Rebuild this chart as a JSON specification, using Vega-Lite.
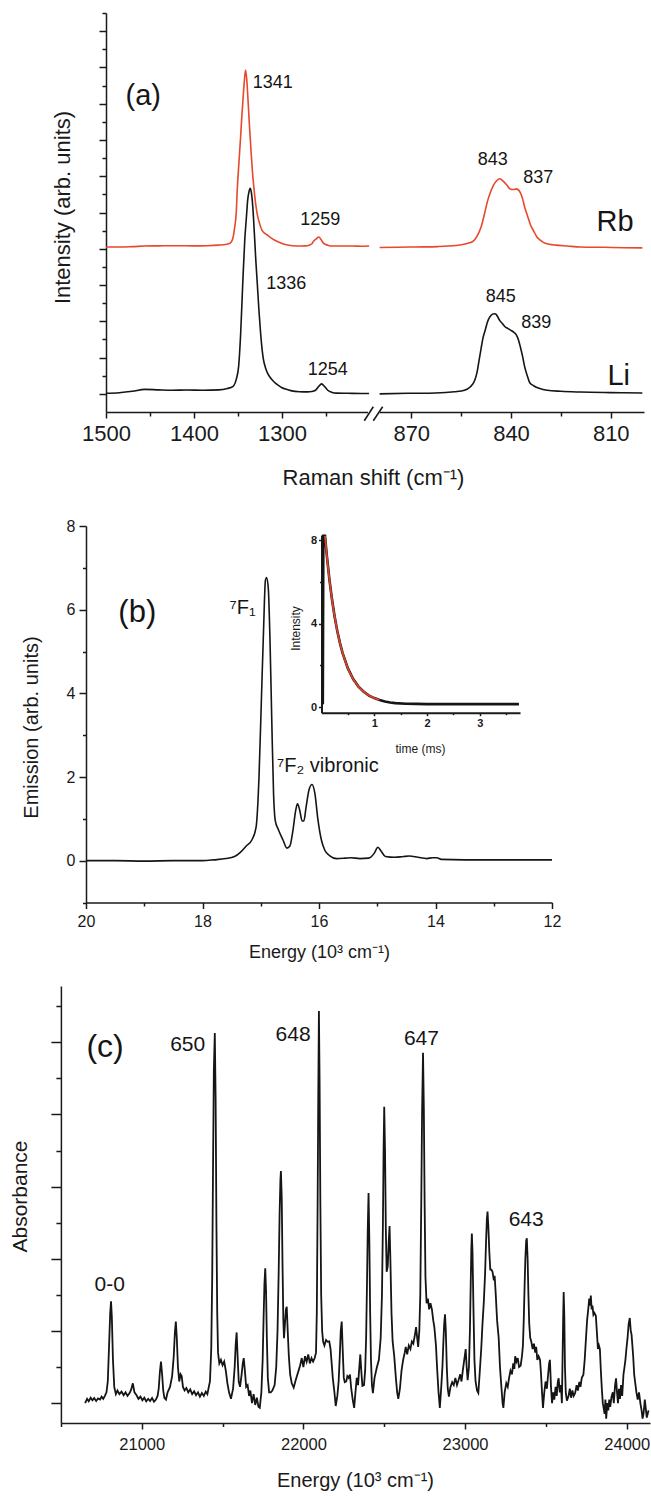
{
  "$schema": "https://vega.github.io/schema/vega-lite/v6.json",
  "width": 651,
  "height": 1496,
  "autosize": {"type": "none"},
  "padding": 0,
  "background": "white",
  "config": {
    "view": {"stroke": null},
    "font": "Liberation Sans",
    "axis": {
      "grid": false,
      "domainColor": "#1a1a1a",
      "tickColor": "#1a1a1a",
      "labelColor": "#1a1a1a",
      "titleColor": "#1a1a1a",
      "domainWidth": 1.5,
      "tickWidth": 1.5,
      "labelFont": "Liberation Sans",
      "titleFont": "Liberation Sans",
      "titleFontWeight": "normal",
      "labelFlush": false,
      "labelOverlap": false
    }
  },
  "datasets": {
    "ramanA": [
      {"salt":"Rb","part":"L","shift":1500,"int":8.10},{"salt":"Rb","part":"L","shift":1485,"int":8.10},{"salt":"Rb","part":"L","shift":1470,"int":8.12},{"salt":"Rb","part":"L","shift":1456,"int":8.15},{"salt":"Rb","part":"L","shift":1440,"int":8.16},{"salt":"Rb","part":"L","shift":1420,"int":8.17},{"salt":"Rb","part":"L","shift":1400,"int":8.16},{"salt":"Rb","part":"L","shift":1385,"int":8.17},{"salt":"Rb","part":"L","shift":1372,"int":8.2},{"salt":"Rb","part":"L","shift":1364,"int":8.24},{"salt":"Rb","part":"L","shift":1359,"int":8.3},{"salt":"Rb","part":"L","shift":1356,"int":8.55},{"salt":"Rb","part":"L","shift":1354,"int":9.1},{"salt":"Rb","part":"L","shift":1352,"int":10.0},{"salt":"Rb","part":"L","shift":1350.8,"int":11.3},{"salt":"Rb","part":"L","shift":1349,"int":12.7},{"salt":"Rb","part":"L","shift":1347,"int":14.2},{"salt":"Rb","part":"L","shift":1345.5,"int":15.4},{"salt":"Rb","part":"L","shift":1344.1,"int":16.4},{"salt":"Rb","part":"L","shift":1342.7,"int":17.3},{"salt":"Rb","part":"L","shift":1341.4,"int":17.86},{"salt":"Rb","part":"L","shift":1340,"int":17.3},{"salt":"Rb","part":"L","shift":1338.5,"int":16.1},{"salt":"Rb","part":"L","shift":1337,"int":14.8},{"salt":"Rb","part":"L","shift":1335.2,"int":13.4},{"salt":"Rb","part":"L","shift":1333.5,"int":12.2},{"salt":"Rb","part":"L","shift":1331.8,"int":11.3},{"salt":"Rb","part":"L","shift":1330,"int":10.5},{"salt":"Rb","part":"L","shift":1328.1,"int":9.9},{"salt":"Rb","part":"L","shift":1325.5,"int":9.4},{"salt":"Rb","part":"L","shift":1322.5,"int":9.0},{"salt":"Rb","part":"L","shift":1319.5,"int":8.85},{"salt":"Rb","part":"L","shift":1316.4,"int":8.75},{"salt":"Rb","part":"L","shift":1313,"int":8.62},{"salt":"Rb","part":"L","shift":1309.2,"int":8.5},{"salt":"Rb","part":"L","shift":1302,"int":8.33},{"salt":"Rb","part":"L","shift":1295,"int":8.22},{"salt":"Rb","part":"L","shift":1288,"int":8.17},{"salt":"Rb","part":"L","shift":1281,"int":8.15},{"salt":"Rb","part":"L","shift":1274,"int":8.16},{"salt":"Rb","part":"L","shift":1269.2,"int":8.2},{"salt":"Rb","part":"L","shift":1266,"int":8.28},{"salt":"Rb","part":"L","shift":1264.4,"int":8.4},{"salt":"Rb","part":"L","shift":1261,"int":8.55},{"salt":"Rb","part":"L","shift":1258.3,"int":8.65},{"salt":"Rb","part":"L","shift":1255.5,"int":8.5},{"salt":"Rb","part":"L","shift":1252.7,"int":8.3},{"salt":"Rb","part":"L","shift":1248,"int":8.2},{"salt":"Rb","part":"L","shift":1243.2,"int":8.15},{"salt":"Rb","part":"L","shift":1230,"int":8.15},{"salt":"Rb","part":"L","shift":1219.7,"int":8.15},{"salt":"Rb","part":"L","shift":1210,"int":8.14},{"salt":"Rb","part":"L","shift":1201,"int":8.15},
      {"salt":"Li","part":"L","shift":1500,"int":0.03},{"salt":"Li","part":"L","shift":1485,"int":0.06},{"salt":"Li","part":"L","shift":1470,"int":0.14},{"salt":"Li","part":"L","shift":1456,"int":0.25},{"salt":"Li","part":"L","shift":1440,"int":0.22},{"salt":"Li","part":"L","shift":1425,"int":0.2},{"salt":"Li","part":"L","shift":1408,"int":0.21},{"salt":"Li","part":"L","shift":1390,"int":0.2},{"salt":"Li","part":"L","shift":1372,"int":0.22},{"salt":"Li","part":"L","shift":1362,"int":0.3},{"salt":"Li","part":"L","shift":1356,"int":0.4},{"salt":"Li","part":"L","shift":1352,"int":0.8},{"salt":"Li","part":"L","shift":1349.3,"int":1.5},{"salt":"Li","part":"L","shift":1347,"int":3.3},{"salt":"Li","part":"L","shift":1344.6,"int":6.1},{"salt":"Li","part":"L","shift":1342.3,"int":8.5},{"salt":"Li","part":"L","shift":1340.5,"int":9.7},{"salt":"Li","part":"L","shift":1339,"int":10.68},{"salt":"Li","part":"L","shift":1337.5,"int":11.15},{"salt":"Li","part":"L","shift":1336.1,"int":11.33},{"salt":"Li","part":"L","shift":1334.8,"int":11.1},{"salt":"Li","part":"L","shift":1333.8,"int":10.68},{"salt":"Li","part":"L","shift":1332.5,"int":9.8},{"salt":"Li","part":"L","shift":1331.4,"int":8.85},{"salt":"Li","part":"L","shift":1329.8,"int":7.4},{"salt":"Li","part":"L","shift":1328.1,"int":6.1},{"salt":"Li","part":"L","shift":1326.2,"int":4.6},{"salt":"Li","part":"L","shift":1324.3,"int":3.34},{"salt":"Li","part":"L","shift":1322.5,"int":2.4},{"salt":"Li","part":"L","shift":1321,"int":1.87},{"salt":"Li","part":"L","shift":1318.5,"int":1.4},{"salt":"Li","part":"L","shift":1316.3,"int":1.13},{"salt":"Li","part":"L","shift":1312.5,"int":0.85},{"salt":"Li","part":"L","shift":1309.2,"int":0.67},{"salt":"Li","part":"L","shift":1304.5,"int":0.48},{"salt":"Li","part":"L","shift":1300,"int":0.34},{"salt":"Li","part":"L","shift":1295,"int":0.25},{"salt":"Li","part":"L","shift":1290,"int":0.18},{"salt":"Li","part":"L","shift":1280,"int":0.12},{"salt":"Li","part":"L","shift":1271,"int":0.11},{"salt":"Li","part":"L","shift":1266,"int":0.13},{"salt":"Li","part":"L","shift":1262,"int":0.2},{"salt":"Li","part":"L","shift":1258.5,"int":0.4},{"salt":"Li","part":"L","shift":1255,"int":0.55},{"salt":"Li","part":"L","shift":1251.5,"int":0.4},{"salt":"Li","part":"L","shift":1248,"int":0.2},{"salt":"Li","part":"L","shift":1243,"int":0.08},{"salt":"Li","part":"L","shift":1238.5,"int":0.04},{"salt":"Li","part":"L","shift":1225,"int":0.03},{"salt":"Li","part":"L","shift":1210,"int":0.02},{"salt":"Li","part":"L","shift":1201,"int":0.02},
      {"salt":"Rb","part":"R","shift":879.5,"int":8.07},{"salt":"Rb","part":"R","shift":874,"int":8.08},{"salt":"Rb","part":"R","shift":868.9,"int":8.1},{"salt":"Rb","part":"R","shift":862,"int":8.12},{"salt":"Rb","part":"R","shift":856.5,"int":8.18},{"salt":"Rb","part":"R","shift":853.5,"int":8.28},{"salt":"Rb","part":"R","shift":851.5,"int":8.4},{"salt":"Rb","part":"R","shift":850.2,"int":8.7},{"salt":"Rb","part":"R","shift":849,"int":9.2},{"salt":"Rb","part":"R","shift":848,"int":9.9},{"salt":"Rb","part":"R","shift":847.1,"int":10.6},{"salt":"Rb","part":"R","shift":846.2,"int":11.1},{"salt":"Rb","part":"R","shift":845.3,"int":11.5},{"salt":"Rb","part":"R","shift":844.3,"int":11.75},{"salt":"Rb","part":"R","shift":843.4,"int":11.86},{"salt":"Rb","part":"R","shift":842.2,"int":11.7},{"salt":"Rb","part":"R","shift":841.2,"int":11.5},{"salt":"Rb","part":"R","shift":840.3,"int":11.3},{"salt":"Rb","part":"R","shift":839.3,"int":11.27},{"salt":"Rb","part":"R","shift":838.4,"int":11.3},{"salt":"Rb","part":"R","shift":837.2,"int":11.1},{"salt":"Rb","part":"R","shift":836.5,"int":10.75},{"salt":"Rb","part":"R","shift":835.9,"int":10.3},{"salt":"Rb","part":"R","shift":835,"int":9.8},{"salt":"Rb","part":"R","shift":834.1,"int":9.3},{"salt":"Rb","part":"R","shift":833.1,"int":8.95},{"salt":"Rb","part":"R","shift":832.2,"int":8.65},{"salt":"Rb","part":"R","shift":831.2,"int":8.48},{"salt":"Rb","part":"R","shift":830.3,"int":8.35},{"salt":"Rb","part":"R","shift":828.5,"int":8.25},{"salt":"Rb","part":"R","shift":826.6,"int":8.2},{"salt":"Rb","part":"R","shift":823,"int":8.15},{"salt":"Rb","part":"R","shift":819.1,"int":8.1},{"salt":"Rb","part":"R","shift":812,"int":8.08},{"salt":"Rb","part":"R","shift":806,"int":8.06},{"salt":"Rb","part":"R","shift":800.5,"int":8.05},
      {"salt":"Li","part":"R","shift":879.5,"int":0.0},{"salt":"Li","part":"R","shift":871,"int":0.03},{"salt":"Li","part":"R","shift":862.7,"int":0.05},{"salt":"Li","part":"R","shift":857,"int":0.12},{"salt":"Li","part":"R","shift":854,"int":0.2},{"salt":"Li","part":"R","shift":852.3,"int":0.38},{"salt":"Li","part":"R","shift":850.9,"int":0.75},{"salt":"Li","part":"R","shift":850.2,"int":1.2},{"salt":"Li","part":"R","shift":849.6,"int":1.85},{"salt":"Li","part":"R","shift":849,"int":2.5},{"salt":"Li","part":"R","shift":848.4,"int":3.1},{"salt":"Li","part":"R","shift":847.7,"int":3.55},{"salt":"Li","part":"R","shift":847.1,"int":3.95},{"salt":"Li","part":"R","shift":846.5,"int":4.2},{"salt":"Li","part":"R","shift":845.9,"int":4.35},{"salt":"Li","part":"R","shift":845.2,"int":4.42},{"salt":"Li","part":"R","shift":844.6,"int":4.4},{"salt":"Li","part":"R","shift":844,"int":4.25},{"salt":"Li","part":"R","shift":843.4,"int":4.05},{"salt":"Li","part":"R","shift":842.6,"int":3.88},{"salt":"Li","part":"R","shift":841.8,"int":3.7},{"salt":"Li","part":"R","shift":840.9,"int":3.6},{"salt":"Li","part":"R","shift":840,"int":3.5},{"salt":"Li","part":"R","shift":839.2,"int":3.4},{"salt":"Li","part":"R","shift":838.4,"int":3.25},{"salt":"Li","part":"R","shift":837.8,"int":3.0},{"salt":"Li","part":"R","shift":837.2,"int":2.6},{"salt":"Li","part":"R","shift":836.5,"int":2.05},{"salt":"Li","part":"R","shift":835.9,"int":1.5},{"salt":"Li","part":"R","shift":835.1,"int":1.0},{"salt":"Li","part":"R","shift":834.3,"int":0.6},{"salt":"Li","part":"R","shift":833.2,"int":0.45},{"salt":"Li","part":"R","shift":832.2,"int":0.35},{"salt":"Li","part":"R","shift":830.7,"int":0.26},{"salt":"Li","part":"R","shift":829.1,"int":0.2},{"salt":"Li","part":"R","shift":825,"int":0.14},{"salt":"Li","part":"R","shift":819.1,"int":0.1},{"salt":"Li","part":"R","shift":810,"int":0.07},{"salt":"Li","part":"R","shift":800.5,"int":0.05}
    ],
    "aNums": [
      {"shift":1310.5,"int":17.14,"t":"1341"},
      {"shift":1256.5,"int":9.59,"t":"1259"},
      {"shift":845.5,"int":12.87,"t":"843"},
      {"shift":831.8,"int":11.89,"t":"837"},
      {"shift":1295.1,"int":6.07,"t":"1336"},
      {"shift":843.1,"int":5.34,"t":"845"},
      {"shift":832.4,"int":3.91,"t":"839"},
      {"shift":1248,"int":1.33,"t":"1254"}
    ],
    "aTags": [
      {"shift":1457.7,"int":16.43,"t":"(a)"},
      {"shift":808.7,"int":9.49,"t":"Rb"},
      {"shift":807.6,"int":1.0,"t":"Li"}
    ],
    "aMask": [{"shift":1202.3,"shift2":879.4,"int":-1}],
    "aBreak": [
      {"shift":1206.5,"shift2":1068,"int":-1.48,"int2":-0.71},
      {"shift":1068,"shift2":878.6,"int":-1.48,"int2":-0.71}
    ],
    "emisB": [
      {"e":20,"v":0.0},{"e":19.5,"v":0.0},{"e":19,"v":-0.01},{"e":18.5,"v":0.0},{"e":18,"v":0.0},{"e":17.8,"v":0.02},{"e":17.6,"v":0.05},{"e":17.45,"v":0.1},{"e":17.35,"v":0.2},{"e":17.25,"v":0.35},{"e":17.15,"v":0.5},{"e":17.08,"v":0.8},{"e":17.03,"v":2.0},{"e":16.99,"v":3.8},{"e":16.95,"v":5.6},{"e":16.92,"v":6.7},{"e":16.9,"v":6.77},{"e":16.87,"v":6.5},{"e":16.84,"v":5.2},{"e":16.81,"v":3.3},{"e":16.78,"v":1.6},{"e":16.75,"v":0.95},{"e":16.7,"v":0.75},{"e":16.62,"v":0.5},{"e":16.55,"v":0.3},{"e":16.5,"v":0.35},{"e":16.45,"v":0.7},{"e":16.4,"v":1.2},{"e":16.37,"v":1.36},{"e":16.33,"v":1.2},{"e":16.29,"v":0.95},{"e":16.26,"v":0.95},{"e":16.22,"v":1.3},{"e":16.17,"v":1.7},{"e":16.12,"v":1.82},{"e":16.07,"v":1.6},{"e":16.02,"v":1.0},{"e":15.96,"v":0.5},{"e":15.9,"v":0.25},{"e":15.82,"v":0.12},{"e":15.7,"v":0.05},{"e":15.55,"v":0.06},{"e":15.45,"v":0.07},{"e":15.3,"v":0.05},{"e":15.15,"v":0.06},{"e":15.05,"v":0.18},{"e":14.99,"v":0.32},{"e":14.93,"v":0.22},{"e":14.86,"v":0.1},{"e":14.7,"v":0.08},{"e":14.55,"v":0.1},{"e":14.45,"v":0.11},{"e":14.3,"v":0.08},{"e":14.15,"v":0.05},{"e":14.05,"v":0.07},{"e":13.98,"v":0.07},{"e":13.9,"v":0.03},{"e":13.5,"v":0.02},{"e":13,"v":0.02},{"e":12.5,"v":0.02},{"e":12,"v":0.02}
    ],
    "bTag": [{"e":19.12,"v":5.93,"t":"(b)"}],
    "bF1": [{"e":17.31,"v":6.05,"t":"⁷F₁"}],
    "bF2": [{"e":16.72,"v":2.26,"t":"⁷F₂ vibronic"}],
    "insetBlack": [
      {"t":0.005,"I":0.15},{"t":0.025,"I":0.2},{"t":0.035,"I":8.2},{"t":0.066,"I":8.2},{"t":0.1,"I":7.28},{"t":0.15,"I":6.11},{"t":0.2,"I":5.14},{"t":0.25,"I":4.32},{"t":0.3,"I":3.64},{"t":0.35,"I":3.07},{"t":0.4,"I":2.59},{"t":0.5,"I":1.86},{"t":0.6,"I":1.35},{"t":0.7,"I":0.99},{"t":0.8,"I":0.74},{"t":0.9,"I":0.56},{"t":1.0,"I":0.44},{"t":1.1,"I":0.35},{"t":1.2,"I":0.28},{"t":1.3,"I":0.23},{"t":1.4,"I":0.2},{"t":1.6,"I":0.17},{"t":1.8,"I":0.16},{"t":2.0,"I":0.15},{"t":2.4,"I":0.15},{"t":2.8,"I":0.15},{"t":3.2,"I":0.15},{"t":3.6,"I":0.15},{"t":3.74,"I":0.15}
    ],
    "insetRed": [
      {"t":0.066,"I":8.2},{"t":0.1,"I":7.28},{"t":0.15,"I":6.11},{"t":0.2,"I":5.14},{"t":0.25,"I":4.32},{"t":0.3,"I":3.64},{"t":0.35,"I":3.07},{"t":0.4,"I":2.59},{"t":0.5,"I":1.86},{"t":0.6,"I":1.35},{"t":0.7,"I":0.99},{"t":0.8,"I":0.74},{"t":0.9,"I":0.56},{"t":1.0,"I":0.44},{"t":1.1,"I":0.35}
    ],
    "absC": [
      {"E":20650,"A":0.0},{"E":20662,"A":0.12},{"E":20672,"A":0.05},{"E":20684,"A":0.15},{"E":20695,"A":0.08},{"E":20706,"A":0.14},{"E":20718,"A":0.06},{"E":20730,"A":0.13},{"E":20742,"A":0.1},{"E":20752,"A":0.18},{"E":20762,"A":0.12},{"E":20772,"A":0.2},{"E":20782,"A":0.3},{"E":20790,"A":0.6},{"E":20798,"A":1.6},{"E":20805,"A":2.5},{"E":20810,"A":2.82},{"E":20815,"A":2.4},{"E":20822,"A":1.2},{"E":20830,"A":0.45},{"E":20840,"A":0.25},{"E":20850,"A":0.35},{"E":20862,"A":0.25},{"E":20875,"A":0.32},{"E":20888,"A":0.22},{"E":20900,"A":0.3},{"E":20912,"A":0.2},{"E":20925,"A":0.28},{"E":20935,"A":0.38},{"E":20945,"A":0.55},{"E":20955,"A":0.3},{"E":20968,"A":0.22},{"E":20980,"A":0.12},{"E":20992,"A":0.18},{"E":21004,"A":0.08},{"E":21016,"A":0.15},{"E":21028,"A":0.05},{"E":21040,"A":0.12},{"E":21052,"A":0.06},{"E":21064,"A":0.14},{"E":21076,"A":0.04},{"E":21088,"A":0.1},{"E":21098,"A":0.2},{"E":21105,"A":0.4},{"E":21112,"A":0.85},{"E":21119,"A":1.15},{"E":21126,"A":0.8},{"E":21133,"A":0.35},{"E":21140,"A":0.15},{"E":21150,"A":0.1},{"E":21160,"A":0.3},{"E":21175,"A":0.45},{"E":21188,"A":0.75},{"E":21198,"A":1.3},{"E":21205,"A":1.95},{"E":21211,"A":2.26},{"E":21217,"A":1.8},{"E":21224,"A":1.0},{"E":21232,"A":0.6},{"E":21240,"A":0.8},{"E":21247,"A":0.75},{"E":21255,"A":0.45},{"E":21265,"A":0.35},{"E":21276,"A":0.42},{"E":21288,"A":0.3},{"E":21300,"A":0.38},{"E":21312,"A":0.25},{"E":21324,"A":0.33},{"E":21336,"A":0.22},{"E":21348,"A":0.3},{"E":21360,"A":0.18},{"E":21372,"A":0.28},{"E":21384,"A":0.2},{"E":21396,"A":0.32},{"E":21406,"A":0.25},{"E":21415,"A":0.45},{"E":21422,"A":0.6},{"E":21430,"A":1.5},{"E":21436,"A":3.5},{"E":21441,"A":6.5},{"E":21446,"A":9.2},{"E":21452,"A":10.26},{"E":21457,"A":8.5},{"E":21462,"A":5.0},{"E":21467,"A":2.5},{"E":21472,"A":1.4},{"E":21480,"A":1.1},{"E":21490,"A":1.2},{"E":21500,"A":1.05},{"E":21510,"A":1.15},{"E":21520,"A":0.9},{"E":21530,"A":0.55},{"E":21540,"A":0.3},{"E":21552,"A":0.12},{"E":21565,"A":0.4},{"E":21575,"A":1.0},{"E":21581,"A":1.6},{"E":21587,"A":1.96},{"E":21593,"A":1.3},{"E":21600,"A":0.6},{"E":21608,"A":0.45},{"E":21618,"A":0.8},{"E":21625,"A":1.1},{"E":21631,"A":1.25},{"E":21638,"A":0.9},{"E":21646,"A":0.45},{"E":21655,"A":0.5},{"E":21664,"A":0.2},{"E":21672,"A":0.35},{"E":21682,"A":0.0},{"E":21692,"A":0.25},{"E":21702,"A":-0.05},{"E":21712,"A":0.15},{"E":21722,"A":-0.1},{"E":21730,"A":-0.13},{"E":21740,"A":0.3},{"E":21748,"A":1.2},{"E":21754,"A":2.4},{"E":21759,"A":3.3},{"E":21764,"A":3.74},{"E":21769,"A":3.1},{"E":21774,"A":1.8},{"E":21780,"A":0.7},{"E":21788,"A":0.3},{"E":21798,"A":0.3},{"E":21808,"A":0.35},{"E":21822,"A":0.5},{"E":21832,"A":1.0},{"E":21840,"A":2.0},{"E":21847,"A":3.6},{"E":21853,"A":5.3},{"E":21858,"A":6.2},{"E":21861,"A":6.43},{"E":21866,"A":5.7},{"E":21871,"A":3.8},{"E":21876,"A":2.3},{"E":21880,"A":1.8},{"E":21886,"A":2.2},{"E":21892,"A":2.6},{"E":21897,"A":2.67},{"E":21903,"A":2.0},{"E":21910,"A":1.3},{"E":21918,"A":0.8},{"E":21928,"A":0.55},{"E":21940,"A":0.43},{"E":21950,"A":0.6},{"E":21960,"A":0.75},{"E":21970,"A":0.9},{"E":21980,"A":1.05},{"E":21990,"A":1.25},{"E":22000,"A":1.0},{"E":22010,"A":1.3},{"E":22020,"A":1.15},{"E":22030,"A":1.35},{"E":22040,"A":1.1},{"E":22050,"A":1.25},{"E":22060,"A":1.15},{"E":22070,"A":1.25},{"E":22078,"A":1.4},{"E":22083,"A":2.5},{"E":22088,"A":5.5},{"E":22092,"A":8.5},{"E":22096,"A":10.87},{"E":22100,"A":9.0},{"E":22105,"A":5.5},{"E":22110,"A":3.0},{"E":22116,"A":2.0},{"E":22122,"A":1.71},{"E":22130,"A":1.6},{"E":22140,"A":1.75},{"E":22150,"A":1.7},{"E":22160,"A":1.71},{"E":22168,"A":1.5},{"E":22175,"A":1.1},{"E":22182,"A":0.69},{"E":22192,"A":0.3},{"E":22200,"A":-0.08},{"E":22210,"A":0.2},{"E":22218,"A":0.6},{"E":22225,"A":1.3},{"E":22231,"A":2.0},{"E":22237,"A":2.26},{"E":22243,"A":1.5},{"E":22250,"A":0.7},{"E":22256,"A":0.58},{"E":22265,"A":0.6},{"E":22272,"A":0.75},{"E":22280,"A":0.7},{"E":22288,"A":0.79},{"E":22296,"A":0.4},{"E":22305,"A":0.1},{"E":22314,"A":-0.13},{"E":22322,"A":0.3},{"E":22330,"A":0.7},{"E":22338,"A":0.5},{"E":22346,"A":1.0},{"E":22352,"A":1.35},{"E":22358,"A":0.9},{"E":22365,"A":0.48},{"E":22375,"A":0.5},{"E":22382,"A":0.9},{"E":22388,"A":1.8},{"E":22393,"A":3.2},{"E":22398,"A":4.8},{"E":22403,"A":5.82},{"E":22408,"A":4.5},{"E":22413,"A":2.5},{"E":22418,"A":1.2},{"E":22424,"A":0.5},{"E":22430,"A":0.28},{"E":22440,"A":0.7},{"E":22455,"A":1.0},{"E":22467,"A":1.2},{"E":22478,"A":1.8},{"E":22486,"A":3.0},{"E":22492,"A":5.0},{"E":22496,"A":7.0},{"E":22500,"A":8.21},{"E":22505,"A":7.0},{"E":22510,"A":4.8},{"E":22515,"A":3.64},{"E":22522,"A":3.8},{"E":22528,"A":4.5},{"E":22533,"A":4.91},{"E":22538,"A":4.0},{"E":22545,"A":2.5},{"E":22552,"A":1.71},{"E":22562,"A":1.3},{"E":22572,"A":0.7},{"E":22580,"A":0.3},{"E":22587,"A":0.12},{"E":22597,"A":0.4},{"E":22607,"A":0.9},{"E":22617,"A":1.2},{"E":22627,"A":1.4},{"E":22633,"A":1.56},{"E":22642,"A":1.35},{"E":22652,"A":1.6},{"E":22662,"A":1.5},{"E":22671,"A":1.71},{"E":22680,"A":1.65},{"E":22690,"A":1.9},{"E":22697,"A":2.11},{"E":22704,"A":1.8},{"E":22710,"A":1.56},{"E":22717,"A":2.0},{"E":22723,"A":3.0},{"E":22729,"A":5.5},{"E":22734,"A":8.0},{"E":22740,"A":9.71},{"E":22745,"A":8.2},{"E":22750,"A":5.5},{"E":22755,"A":3.5},{"E":22762,"A":2.77},{"E":22770,"A":2.9},{"E":22778,"A":2.6},{"E":22786,"A":2.77},{"E":22795,"A":2.6},{"E":22803,"A":2.3},{"E":22810,"A":2.11},{"E":22820,"A":1.6},{"E":22828,"A":0.9},{"E":22836,"A":0.3},{"E":22844,"A":-0.13},{"E":22852,"A":0.4},{"E":22860,"A":1.0},{"E":22866,"A":1.7},{"E":22871,"A":2.2},{"E":22876,"A":2.46},{"E":22881,"A":2.0},{"E":22887,"A":1.0},{"E":22893,"A":0.4},{"E":22900,"A":0.18},{"E":22910,"A":0.45},{"E":22920,"A":0.58},{"E":22930,"A":0.5},{"E":22940,"A":0.7},{"E":22950,"A":0.5},{"E":22960,"A":0.64},{"E":22970,"A":0.8},{"E":22978,"A":0.6},{"E":22986,"A":0.9},{"E":22995,"A":1.2},{"E":23004,"A":1.5},{"E":23010,"A":1.0},{"E":23016,"A":0.64},{"E":23024,"A":1.0},{"E":23030,"A":2.0},{"E":23035,"A":3.3},{"E":23039,"A":4.3},{"E":23042,"A":4.7},{"E":23046,"A":4.2},{"E":23052,"A":2.6},{"E":23058,"A":1.2},{"E":23065,"A":0.6},{"E":23074,"A":0.35},{"E":23082,"A":0.28},{"E":23090,"A":0.8},{"E":23100,"A":1.5},{"E":23108,"A":2.21},{"E":23116,"A":2.8},{"E":23124,"A":3.6},{"E":23130,"A":4.5},{"E":23135,"A":5.1},{"E":23139,"A":5.31},{"E":23144,"A":4.9},{"E":23150,"A":4.2},{"E":23156,"A":3.7},{"E":23163,"A":3.7},{"E":23170,"A":3.64},{"E":23178,"A":3.4},{"E":23183,"A":3.53},{"E":23190,"A":3.0},{"E":23198,"A":2.3},{"E":23208,"A":1.81},{"E":23216,"A":1.0},{"E":23224,"A":0.5},{"E":23232,"A":0.0},{"E":23237,"A":-0.13},{"E":23245,"A":0.3},{"E":23255,"A":0.55},{"E":23264,"A":0.45},{"E":23272,"A":0.69},{"E":23281,"A":0.9},{"E":23290,"A":0.8},{"E":23298,"A":1.1},{"E":23305,"A":0.95},{"E":23310,"A":1.3},{"E":23318,"A":1.15},{"E":23326,"A":1.25},{"E":23334,"A":1.0},{"E":23344,"A":1.04},{"E":23352,"A":1.3},{"E":23358,"A":1.6},{"E":23363,"A":2.3},{"E":23368,"A":3.2},{"E":23373,"A":4.0},{"E":23378,"A":4.5},{"E":23382,"A":4.57},{"E":23387,"A":4.0},{"E":23392,"A":3.0},{"E":23397,"A":2.2},{"E":23403,"A":1.81},{"E":23410,"A":1.7},{"E":23418,"A":1.5},{"E":23426,"A":1.65},{"E":23434,"A":1.4},{"E":23440,"A":1.56},{"E":23447,"A":1.2},{"E":23455,"A":1.3},{"E":23464,"A":1.2},{"E":23470,"A":0.8},{"E":23476,"A":0.3},{"E":23482,"A":-0.13},{"E":23490,"A":0.3},{"E":23498,"A":0.6},{"E":23506,"A":0.4},{"E":23514,"A":0.8},{"E":23520,"A":1.1},{"E":23525,"A":1.2},{"E":23531,"A":0.5},{"E":23538,"A":0.0},{"E":23545,"A":0.3},{"E":23552,"A":0.1},{"E":23560,"A":0.45},{"E":23567,"A":0.2},{"E":23574,"A":0.6},{"E":23579,"A":0.69},{"E":23586,"A":0.3},{"E":23593,"A":0.5},{"E":23599,"A":0.0},{"E":23603,"A":1.2},{"E":23607,"A":2.4},{"E":23610,"A":3.08},{"E":23614,"A":2.4},{"E":23618,"A":1.0},{"E":23623,"A":0.3},{"E":23630,"A":0.07},{"E":23640,"A":0.2},{"E":23648,"A":0.4},{"E":23656,"A":0.15},{"E":23664,"A":0.35},{"E":23672,"A":0.2},{"E":23681,"A":0.28},{"E":23690,"A":0.5},{"E":23698,"A":0.35},{"E":23707,"A":0.59},{"E":23714,"A":0.45},{"E":23722,"A":0.7},{"E":23732,"A":0.79},{"E":23740,"A":1.2},{"E":23748,"A":1.8},{"E":23755,"A":2.3},{"E":23762,"A":2.6},{"E":23768,"A":2.9},{"E":23773,"A":2.7},{"E":23778,"A":2.98},{"E":23783,"A":2.6},{"E":23788,"A":2.7},{"E":23794,"A":2.45},{"E":23800,"A":2.5},{"E":23809,"A":2.42},{"E":23815,"A":2.0},{"E":23822,"A":1.5},{"E":23828,"A":1.6},{"E":23834,"A":1.5},{"E":23840,"A":0.9},{"E":23846,"A":0.4},{"E":23852,"A":0.0},{"E":23857,"A":-0.13},{"E":23863,"A":-0.3},{"E":23868,"A":0.1},{"E":23873,"A":-0.43},{"E":23880,"A":0.0},{"E":23886,"A":-0.2},{"E":23892,"A":0.1},{"E":23898,"A":-0.1},{"E":23906,"A":0.18},{"E":23914,"A":0.3},{"E":23920,"A":0.0},{"E":23928,"A":0.5},{"E":23934,"A":0.69},{"E":23940,"A":0.3},{"E":23946,"A":0.0},{"E":23952,"A":0.4},{"E":23958,"A":0.12},{"E":23965,"A":0.5},{"E":23972,"A":0.2},{"E":23980,"A":0.8},{"E":23986,"A":0.99},{"E":23992,"A":1.2},{"E":23998,"A":1.5},{"E":24005,"A":1.8},{"E":24012,"A":2.2},{"E":24019,"A":2.36},{"E":24025,"A":2.0},{"E":24030,"A":1.9},{"E":24040,"A":1.3},{"E":24046,"A":0.8},{"E":24052,"A":0.58},{"E":24060,"A":0.3},{"E":24068,"A":0.1},{"E":24076,"A":0.3},{"E":24085,"A":-0.02},{"E":24092,"A":-0.2},{"E":24098,"A":-0.43},{"E":24104,"A":-0.3},{"E":24112,"A":0.1},{"E":24124,"A":-0.4},{"E":24135,"A":-0.2}
    ],
    "cNums": [
      {"E":20802,"A":3.28,"t":"0-0"},
      {"E":21284,"A":9.93,"t":"650"},
      {"E":21936,"A":10.21,"t":"648"},
      {"E":22730,"A":10.08,"t":"647"},
      {"E":23378,"A":5.08,"t":"643"}
    ],
    "cTag": [{"E":20773,"A":9.86,"t":"(c)"}]
  },
  "layer": [
    {
      "layer": [
        {
          "data": {"name": "ramanA"},
          "mark": {"type": "line", "strokeWidth": 1.6, "interpolate": "monotone"},
          "encoding": {
            "x": {"field": "shift", "type": "quantitative",
              "scale": {"domain": [1500, 1200, 880, 800], "range": [106, 370, 378, 644], "nice": false, "zero": false},
              "axis": {"orient": "bottom", "offset": -1084, "values": [1500, 1400, 1300, 870, 840, 810], "format": "d", "labelFontSize": 22, "labelPadding": 5, "tickSize": 6,
                "title": "Raman shift (cm⁻¹)", "titleFontSize": 22, "titleX": 373, "titleY": 65, "titleBaseline": "middle", "titleAlign": "center", "titleAngle": 0}},
            "y": {"field": "int", "type": "quantitative",
              "scale": {"domain": [-1, 21], "range": [412, 13], "nice": false, "zero": false},
              "axis": {"orient": "left", "offset": -106, "values": [0, 2, 4, 6, 8, 10, 12, 14, 16, 18, 20], "labels": false, "tickSize": 7,
                "title": "Intensity (arb. units)", "titleFontSize": 22, "titleX": -44, "titleY": 207, "titleAngle": -90, "titleBaseline": "middle", "titleAlign": "center"}},
            "color": {"field": "salt", "type": "nominal", "scale": {"domain": ["Rb", "Li"], "range": ["#e8482c", "#151515"]}, "legend": null},
            "detail": {"field": "part"}
          }
        },
        {
          "data": {"name": "ramanA"},
          "mark": {"type": "point", "opacity": 0, "size": 1},
          "encoding": {
            "x": {"field": "shift", "type": "quantitative",
              "axis": {"orient": "bottom", "offset": -1084, "values": [1450, 1350, 1250, 855, 825], "labels": false, "domain": false, "tickSize": 4, "title": null}},
            "y": {"field": "int", "type": "quantitative",
              "axis": {"orient": "left", "offset": -106, "values": [1, 3, 5, 7, 9, 11, 13, 15, 17, 19, 21], "labels": false, "domain": false, "tickSize": 4, "title": null}}
          }
        },
        {
          "data": {"name": "aMask"},
          "mark": {"type": "rule", "color": "white", "strokeWidth": 4},
          "encoding": {
            "x": {"field": "shift", "type": "quantitative", "axis": null},
            "x2": {"field": "shift2"},
            "y": {"field": "int", "type": "quantitative", "axis": null}
          }
        },
        {
          "data": {"name": "aBreak"},
          "mark": {"type": "rule", "color": "#1a1a1a", "strokeWidth": 1.6},
          "encoding": {
            "x": {"field": "shift", "type": "quantitative", "axis": null},
            "x2": {"field": "shift2"},
            "y": {"field": "int", "type": "quantitative", "axis": null},
            "y2": {"field": "int2"}
          }
        },
        {
          "data": {"name": "aNums"},
          "mark": {"type": "text", "fontSize": 18, "font": "Liberation Sans", "align": "center", "baseline": "middle", "color": "#151515"},
          "encoding": {
            "x": {"field": "shift", "type": "quantitative", "axis": null},
            "y": {"field": "int", "type": "quantitative", "axis": null},
            "text": {"field": "t"}
          }
        },
        {
          "data": {"name": "aTags"},
          "mark": {"type": "text", "fontSize": 29, "font": "Liberation Sans", "align": "center", "baseline": "middle", "color": "#151515"},
          "encoding": {
            "x": {"field": "shift", "type": "quantitative", "axis": null},
            "y": {"field": "int", "type": "quantitative", "axis": null},
            "text": {"field": "t"}
          }
        }
      ],
      "resolve": {"axis": {"x": "independent", "y": "independent"}}
    },
    {
      "layer": [
        {
          "data": {"name": "emisB"},
          "mark": {"type": "line", "strokeWidth": 1.6, "color": "#151515", "interpolate": "monotone"},
          "encoding": {
            "x": {"field": "e", "type": "quantitative",
              "scale": {"domain": [12, 20], "range": [552, 86], "nice": false, "zero": false},
              "axis": {"orient": "bottom", "offset": -593.5, "values": [20, 18, 16, 14, 12], "labelFontSize": 16, "labelPadding": 5, "tickSize": 6,
                "title": "Energy (10³ cm⁻¹)", "titleFontSize": 18, "titleX": 319, "titleY": 49.5, "titleBaseline": "middle", "titleAlign": "center", "titleAngle": 0}},
            "y": {"field": "v", "type": "quantitative",
              "scale": {"domain": [-1, 8], "range": [902.5, 526], "nice": false, "zero": false},
              "axis": {"orient": "left", "offset": -86, "values": [0, 2, 4, 6, 8], "labelFontSize": 16, "labelPadding": 4, "tickSize": 7,
                "title": "Emission (arb. units)", "titleFontSize": 20, "titleX": -55, "titleY": 727, "titleAngle": -90, "titleBaseline": "middle", "titleAlign": "center"}}
          }
        },
        {
          "data": {"name": "emisB"},
          "mark": {"type": "point", "opacity": 0, "size": 1},
          "encoding": {
            "x": {"field": "e", "type": "quantitative",
              "axis": {"orient": "bottom", "offset": -593.5, "values": [19, 17, 15, 13], "labels": false, "domain": false, "tickSize": 3.5, "title": null}},
            "y": {"field": "v", "type": "quantitative",
              "axis": {"orient": "left", "offset": -86, "values": [-1, 1, 3, 5, 7], "labels": false, "domain": false, "tickSize": 3.5, "title": null}}
          }
        },
        {
          "data": {"name": "bTag"},
          "mark": {"type": "text", "fontSize": 31, "font": "Liberation Sans", "align": "center", "baseline": "middle", "color": "#151515"},
          "encoding": {
            "x": {"field": "e", "type": "quantitative", "axis": null},
            "y": {"field": "v", "type": "quantitative", "axis": null},
            "text": {"field": "t"}
          }
        },
        {
          "data": {"name": "bF1"},
          "mark": {"type": "text", "fontSize": 20, "font": "Liberation Sans", "align": "center", "baseline": "middle", "color": "#151515"},
          "encoding": {
            "x": {"field": "e", "type": "quantitative", "axis": null},
            "y": {"field": "v", "type": "quantitative", "axis": null},
            "text": {"field": "t"}
          }
        },
        {
          "data": {"name": "bF2"},
          "mark": {"type": "text", "fontSize": 20, "font": "Liberation Sans", "align": "left", "baseline": "middle", "color": "#151515"},
          "encoding": {
            "x": {"field": "e", "type": "quantitative", "axis": null},
            "y": {"field": "v", "type": "quantitative", "axis": null},
            "text": {"field": "t"}
          }
        }
      ],
      "resolve": {"axis": {"x": "independent", "y": "independent"}}
    },
    {
      "layer": [
        {
          "data": {"name": "insetBlack"},
          "mark": {"type": "line", "strokeWidth": 2.6, "color": "#151515"},
          "encoding": {
            "x": {"field": "t", "type": "quantitative",
              "scale": {"domain": [0, 3.76], "range": [321.5, 520], "nice": false, "zero": false},
              "axis": {"orient": "bottom", "offset": -783.3, "values": [1, 2, 3], "labelFontSize": 11, "labelFontWeight": "bold", "labelFont": "Liberation Sans Narrow, Liberation Sans", "labelPadding": 2, "tickSize": 3, "domainWidth": 2,
                "title": "time (ms)", "titleFont": "Liberation Sans Narrow, Liberation Sans", "titleFontSize": 12, "titleX": 420, "titleY": 35.3, "titleBaseline": "middle", "titleAlign": "center", "titleAngle": 0}},
            "y": {"field": "I", "type": "quantitative",
              "scale": {"domain": [-0.26, 8.24], "range": [712.7, 535], "nice": false, "zero": false},
              "axis": {"orient": "left", "offset": -321.5, "values": [0, 4, 8], "labelFontSize": 11, "labelFontWeight": "bold", "labelFont": "Liberation Sans Narrow, Liberation Sans", "labelPadding": 2, "tickSize": 3, "domainWidth": 2,
                "title": "Intensity", "titleFont": "Liberation Sans Narrow, Liberation Sans", "titleFontSize": 12, "titleX": -26.5, "titleY": 628, "titleAngle": -90, "titleBaseline": "middle", "titleAlign": "center"}}
          }
        },
        {
          "data": {"name": "insetRed"},
          "mark": {"type": "line", "strokeWidth": 1.8, "color": "#d9432b", "interpolate": "monotone"},
          "encoding": {
            "x": {"field": "t", "type": "quantitative", "axis": null},
            "y": {"field": "I", "type": "quantitative", "axis": null}
          }
        },
        {
          "data": {"name": "insetBlack"},
          "mark": {"type": "point", "opacity": 0, "size": 1},
          "encoding": {
            "x": {"field": "t", "type": "quantitative",
              "axis": {"orient": "bottom", "offset": -783.3, "values": [0.5, 1.5, 2.5, 3.5], "labels": false, "domain": false, "tickSize": 2, "title": null}},
            "y": {"field": "I", "type": "quantitative",
              "axis": {"orient": "left", "offset": -321.5, "values": [2, 6], "labels": false, "domain": false, "tickSize": 2, "title": null}}
          }
        }
      ],
      "resolve": {"axis": {"x": "independent", "y": "independent"}}
    },
    {
      "layer": [
        {
          "data": {"name": "absC"},
          "mark": {"type": "line", "strokeWidth": 1.8, "color": "#151515"},
          "encoding": {
            "x": {"field": "E", "type": "quantitative",
              "scale": {"domain": [20500, 24144], "range": [60.9, 650], "nice": false, "zero": false},
              "axis": {"orient": "bottom", "offset": -73, "values": [21000, 22000, 23000, 24000], "format": "d", "labelFontSize": 16.5, "labelPadding": 7, "tickSize": 6,
                "title": "Energy (10³ cm⁻¹)", "titleFontSize": 20, "titleX": 355, "titleY": 57, "titleBaseline": "middle", "titleAlign": "center", "titleAngle": 0}},
            "y": {"field": "A", "type": "quantitative",
              "scale": {"domain": [-0.55, 11.56], "range": [1423, 986], "nice": false, "zero": false},
              "axis": {"orient": "left", "offset": -60.9, "values": [0, 2, 4, 6, 8, 10], "labels": false, "tickSize": 10,
                "title": "Absorbance", "titleFontSize": 21, "titleX": -40.2, "titleY": 1196, "titleAngle": -90, "titleBaseline": "middle", "titleAlign": "center"}}
          }
        },
        {
          "data": {"name": "absC"},
          "mark": {"type": "point", "opacity": 0, "size": 1},
          "encoding": {
            "x": {"field": "E", "type": "quantitative",
              "axis": {"orient": "bottom", "offset": -73, "values": [20500, 21500, 22500, 23500], "labels": false, "domain": false, "tickSize": 3.5, "title": null}},
            "y": {"field": "A", "type": "quantitative",
              "axis": {"orient": "left", "offset": -60.9, "values": [1, 3, 5, 7, 9, 11], "labels": false, "domain": false, "tickSize": 5, "title": null}}
          }
        },
        {
          "data": {"name": "cNums"},
          "mark": {"type": "text", "fontSize": 21, "font": "Liberation Sans", "align": "center", "baseline": "middle", "color": "#151515"},
          "encoding": {
            "x": {"field": "E", "type": "quantitative", "axis": null},
            "y": {"field": "A", "type": "quantitative", "axis": null},
            "text": {"field": "t"}
          }
        },
        {
          "data": {"name": "cTag"},
          "mark": {"type": "text", "fontSize": 32, "font": "Liberation Sans", "align": "center", "baseline": "middle", "color": "#151515"},
          "encoding": {
            "x": {"field": "E", "type": "quantitative", "axis": null},
            "y": {"field": "A", "type": "quantitative", "axis": null},
            "text": {"field": "t"}
          }
        }
      ],
      "resolve": {"axis": {"x": "independent", "y": "independent"}}
    }
  ],
  "resolve": {"scale": {"x": "independent", "y": "independent"}}
}
